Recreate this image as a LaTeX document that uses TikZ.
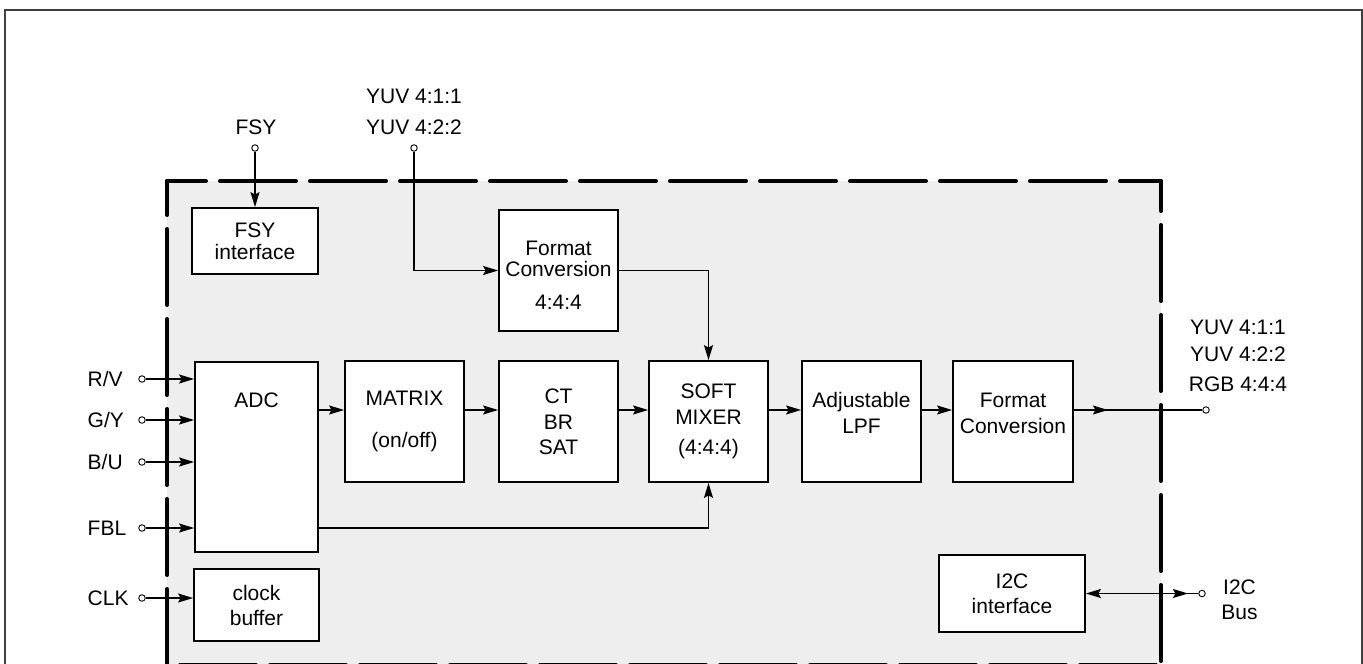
\documentclass[tikz,border=0pt]{standalone}
\usepackage{fontspec}
\setmainfont{Liberation Sans}
\usetikzlibrary{arrows.meta,decorations.markings}
\definecolor{chipbg}{RGB}{238,238,238}
\tikzset{
  blk/.style={draw, fill=white, line width=1.8pt, inner sep=0pt, align=center},
  cell/.style={blk, minimum width=119pt, minimum height=121pt},
  port/.style={circle, draw, fill=white, inner sep=0pt, minimum size=6.5pt, line width=0.9pt},
  lbl/.style={align=center, inner sep=0pt},
  chipedge/.style={line width=4pt, line cap=round, dash pattern=on 76pt off 14pt},
  midtip/.style={postaction={decorate},
    decoration={markings, mark=at position #1 with {\arrow{>}}}}
}
\begin{document}
\begin{tikzpicture}[x=1pt, y=-1pt, line width=1.4pt,
  font=\fontsize{21}{24}\selectfont,
  >={Stealth[length=15pt,width=9pt,inset=2.5pt]}]
  \useasboundingbox (0,0) rectangle (1363,664);
  % outer frame
  \draw[black!75, line width=1.5pt] (5,700) -- (5,10) -- (1362,10) -- (1362,700);
  % chip area
  \fill[chipbg] (167,181) rectangle (1161,670);
  \draw[chipedge, dash phase=37pt] (167,181) -- (1161,181);
  \draw[chipedge, dash phase=42pt] (167,181) -- (167,680);
  \draw[chipedge, dash phase=46pt] (1161,181) -- (1161,680);
  \draw[chipedge, dash phase=77pt] (167,665) -- (1161,665);
  % blocks
  \node[blk, minimum width=126pt, minimum height=66pt] (fsyif) at (255,241) {FSY\\[-2pt]interface};
  \node[cell] (fmtin) at (558.5,270.5) {\mbox{}\\Format\\[-3pt]Conversion\\[9pt]4:4:4};
  \node[blk, minimum width=123pt, minimum height=190pt] (adc) at (256.5,457) {ADC\\[90pt]\mbox{}};
  \node[cell] (mtx) at (404.5,421.5) {MATRIX\\[18pt](on/off)};
  \node[cell] (ctbr) at (558.5,421.5) {CT\\[2pt]BR\\[1pt]SAT};
  \node[cell] (mixer) at (708.5,421.5) {SOFT\\[2pt]MIXER\\[6pt](4:4:4)};
  \node[cell] (lpf) at (861.5,421.5) {Adjustable\\[2pt]LPF\\[-7pt]\mbox{}};
  \node[cell, minimum width=120pt] (fmtout) at (1013,421.5) {Format\\[2pt]Conversion\\[-7pt]\mbox{}};
  \node[blk, minimum width=125pt, minimum height=72pt] (clkbuf) at (256.5,605) {clock\\[1pt]buffer};
  \node[blk, minimum width=146pt, minimum height=77pt] (i2c) at (1012,593.5) {I2C\\[1pt]interface};
  % top pins
  \node[port] (fsyp) at (255,148) {};
  \node[lbl] (fsyl) at (256,127) {FSY};
  \node[port] (yuvp) at (414,148) {};
  \node[lbl] (yuvl) at (414,111.5) {YUV 4:1:1\\[7pt]YUV 4:2:2};
  % left pins
  \node[port] (rvp) at (142,379) {};
  \node[lbl, anchor=west] (rvl) at (87,379) {R/V};
  \node[port] (gyp) at (142,420) {};
  \node[lbl, anchor=west] (gyl) at (87,420) {G/Y};
  \node[port] (bup) at (142,462) {};
  \node[lbl, anchor=west] (bul) at (87,462) {B/U};
  \node[port] (fblp) at (142,528) {};
  \node[lbl, anchor=west] (fbll) at (87,528) {FBL};
  \node[port] (clkp) at (142,598) {};
  \node[lbl, anchor=west] (clkl) at (87,598) {CLK};
  % right pins
  \node[port] (outp) at (1206,410) {};
  \node[lbl] (outl) at (1238,355.5) {YUV 4:1:1\\[3pt]YUV 4:2:2\\[6pt]RGB 4:4:4};
  \node[port] (i2cp) at (1202,593.5) {};
  \node[lbl] (busl) at (1239.5,599.5) {I2C\\[1pt]Bus};
  % inputs
  \draw[->] (fsyp) -- (fsyif);
  \draw[->] (yuvp) |- (fmtin);
  \draw[->] (rvp) -- (rvp -| adc.west);
  \draw[->] (gyp) -- (gyp -| adc.west);
  \draw[->] (bup) -- (bup -| adc.west);
  \draw[->] (fblp) -- (fblp -| adc.west);
  \draw[->] (clkp) -- (clkp -| clkbuf.west);
  % video path
  \coordinate (row) at (0,410);
  \draw[->] (fmtin) -| (mixer);
  \draw[->] (adc.east |- row) -- (mtx.west |- row);
  \draw[->] (mtx.east |- row) -- (ctbr.west |- row);
  \draw[->] (ctbr.east |- row) -- (mixer.west |- row);
  \draw[->] (mixer.east |- row) -- (lpf.west |- row);
  \draw[->] (lpf.east |- row) -- (fmtout.west |- row);
  \draw[->] (adc.east |- fblp) -| (mixer.south);
  % outputs
  \draw[midtip=34pt] (fmtout.east |- row) -- (outp);
  \draw[<-, midtip=102pt] (i2c) -- (i2cp);
\end{tikzpicture}
\end{document}
